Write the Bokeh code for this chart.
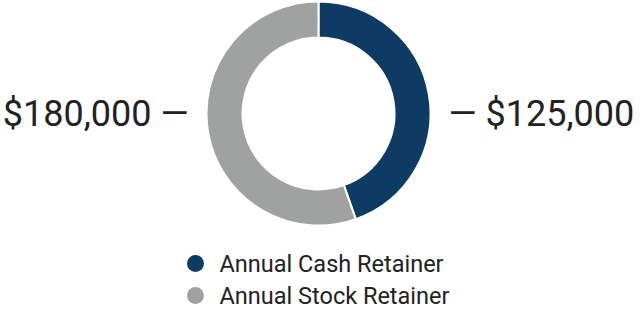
import math
from bokeh.plotting import figure
from bokeh.models import Range1d, ColumnDataSource
from bokeh.core.properties import value
from bokeh.embed import file_html
from bokeh.resources import INLINE

categories = ["Annual Cash Retainer", "Annual Stock Retainer"]
amounts = [125000, 180000]
amount_labels = ["— $125,000", "$180,000 —"]
# slice shares
shares = [44.6, 55.4]
colors = ["#0e3b63", "#a0a1a1"]

W, H = 640, 312
p = figure(width=W, height=H, output_backend="svg", toolbar_location=None,
           x_range=Range1d(0, W), y_range=Range1d(0, H), min_border=0)
p.axis.visible = False
p.grid.visible = False
p.outline_line_color = None
p.background_fill_color = "white"

cx, cy = 318, H - 113
total = sum(shares)
starts, ends = [], []
acc = 0.0
for s in shares:
    starts.append(math.pi / 2 - 2 * math.pi * acc / total)
    acc += s
    ends.append(math.pi / 2 - 2 * math.pi * acc / total)

src = ColumnDataSource(dict(start=starts, end=ends, color=colors))
p.annular_wedge(x=cx, y=cy, inner_radius=76, outer_radius=112,
                inner_radius_units="screen", outer_radius_units="screen",
                start_angle="start", end_angle="end", direction="clock",
                fill_color="color", line_color="white", line_width=2, source=src)

font = value("Roboto")
p.text(x=[448], y=[cy], text=[amount_labels[0]], text_font=font,
       text_font_size="36px", text_align="left", text_baseline="middle",
       text_color="#222222")
p.text(x=[188], y=[cy], text=[amount_labels[1]], text_font=font,
       text_font_size="36px", text_align="right", text_baseline="middle",
       text_color="#222222")

ly = [H - 263, H - 295]
p.scatter(x=[195, 195], y=ly, size=17, marker="circle", fill_color=colors,
          line_color=None)
p.text(x=[219, 219], y=ly, text=categories, text_font=font,
       text_font_size="23.5px", text_align="left", text_baseline="middle",
       text_color="#222222")

open("out.html", "w").write(file_html(p, INLINE))
